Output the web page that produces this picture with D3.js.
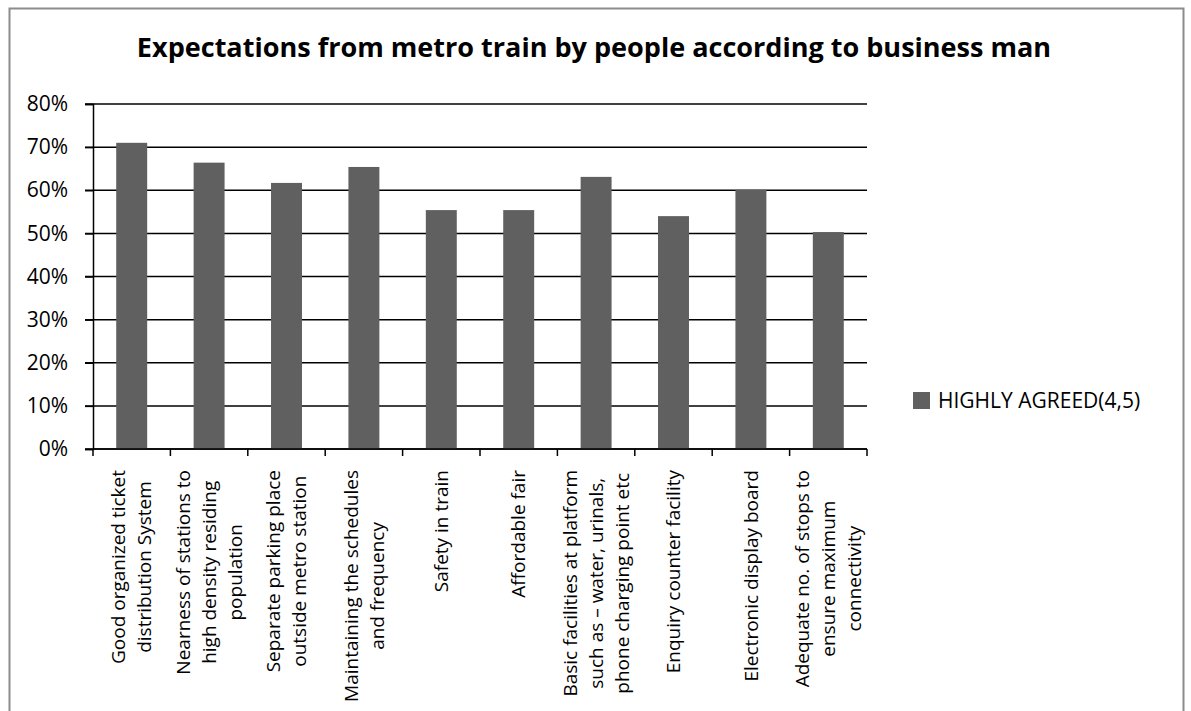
<!DOCTYPE html>
<html>
<head>
<meta charset="utf-8">
<script src="https://cdn.jsdelivr.net/npm/d3@7"></script>
<style>
  html, body { margin: 0; padding: 0; background: #fff; }
  svg { display: block; font-family: "Open Sans", "Noto Sans", sans-serif; }
</style>
</head>
<body>
<svg id="chart" width="1191" height="711"></svg>
<script>
// Survey items (each entry is a list of label lines)
const categories = [
  ["Good organized ticket", "distribution System"],
  ["Nearness of stations to", "high density  residing", "population"],
  ["Separate parking place", "outside metro station"],
  ["Maintaining the schedules", "and frequency"],
  ["Safety in  train"],
  ["Affordable fair"],
  ["Basic facilities at platform", "such as \u2013 water, urinals,", "phone charging point etc"],
  ["Enquiry counter facility"],
  ["Electronic display board"],
  ["Adequate no. of stops to", "ensure maximum", "connectivity"]
];
// Share of respondents who highly agreed (4,5)
const highlyAgreed = [0.710, 0.664, 0.617, 0.654, 0.554, 0.554, 0.631, 0.540, 0.601, 0.503];
const yTicks = [0, 0.1, 0.2, 0.3, 0.4, 0.5, 0.6, 0.7, 0.8];
const seriesName = "HIGHLY AGREED(4,5)";
const chartTitle = "Expectations from metro train by people according to business man";

const svg = d3.select("#chart");

// outer frame
svg.append("path")
  .attr("d", "M9.5,711 V8.5 H1183.5 V711")
  .attr("fill", "none")
  .attr("stroke", "#8c8c8c")
  .attr("stroke-width", 2);

const plot = { left: 93, right: 867, top: 104, bottom: 449 };

const x = d3.scaleBand()
  .domain(d3.range(categories.length))
  .range([plot.left, plot.right])
  .paddingInner(0.6)
  .paddingOuter(0.3);

const y = d3.scaleLinear()
  .domain([0, 0.8])
  .range([plot.bottom, plot.top]);

// title: a tall bold face, squeezed horizontally to its line width
const titleG = svg.append("g");
const title = titleG.append("text")
  .attr("x", 0)
  .attr("y", 0)
  .attr("text-anchor", "middle")
  .attr("font-weight", "bold")
  .attr("font-size", 26)
  .attr("fill", "#000")
  .text(chartTitle);
const tw = title.node().getComputedTextLength();
titleG.attr("transform", `translate(594,57) scale(${915 / tw},1)`);

// horizontal gridlines
svg.append("g")
  .selectAll("line")
  .data(yTicks)
  .join("line")
  .attr("x1", plot.left - 8)
  .attr("x2", plot.right)
  .attr("y1", d => y(d))
  .attr("y2", d => y(d))
  .attr("stroke", "#000")
  .attr("stroke-width", 1.5);

// y axis
const yAxis = svg.append("g")
  .attr("transform", `translate(${plot.left},0)`)
  .call(d3.axisLeft(y).tickValues(yTicks).tickFormat(d3.format(".0%")).tickSize(8).tickPadding(17));
yAxis.select(".domain").attr("stroke", "#000").attr("stroke-width", 1.5);
yAxis.selectAll(".tick line").attr("stroke", "#000").attr("stroke-width", 1.5);
yAxis.selectAll(".tick text")
  .attr("font-family", "\"Open Sans\", sans-serif")
  .attr("font-size", 21)
  .attr("fill", "#000");

// bars
svg.append("g")
  .selectAll("rect")
  .data(highlyAgreed)
  .join("rect")
  .attr("x", (d, i) => x(i))
  .attr("width", x.bandwidth())
  .attr("y", d => y(d))
  .attr("height", d => y(0) - y(d))
  .attr("fill", "#606060");

// x axis with ticks on band boundaries
const xAxis = svg.append("g");
xAxis.append("line")
  .attr("x1", plot.left).attr("x2", plot.right)
  .attr("y1", plot.bottom).attr("y2", plot.bottom)
  .attr("stroke", "#000").attr("stroke-width", 1.5);
const step = x.step();
const boundaries = d3.range(categories.length + 1).map(i => i === categories.length ? plot.right : x(i) - (step - x.bandwidth()) / 2);
xAxis.selectAll("line.tk")
  .data(boundaries)
  .join("line")
  .attr("class", "tk")
  .attr("x1", d => d).attr("x2", d => d)
  .attr("y1", plot.bottom).attr("y2", plot.bottom + 7)
  .attr("stroke", "#000").attr("stroke-width", 1.5);

// rotated category labels, top-aligned and centred line by line
const labelTop = 470;
const lineGap = 26;
const labelSize = 19;
categories.forEach((lines, i) => {
  const cx = x(i) + x.bandwidth() / 2;
  const g = svg.append("g");
  const texts = lines.map((t, j) => g.append("text")
    .attr("font-size", labelSize)
    .attr("fill", "#000")
    .attr("text-anchor", "middle")
    .text(t));
  const maxLen = d3.max(texts, t => t.node().getComputedTextLength());
  const cy = labelTop + maxLen / 2;
  const n = lines.length;
  texts.forEach((t, j) => {
    const lx = cx + (j - (n - 1) / 2) * lineGap + labelSize * 0.35;
    t.attr("transform", `translate(${lx},${cy}) rotate(-90)`);
  });
});

// legend
const legend = svg.append("g").attr("transform", "translate(913,392)");
legend.append("rect")
  .attr("width", 17).attr("height", 17)
  .attr("fill", "#606060");
legend.append("text")
  .attr("x", 25)
  .attr("y", 16)
  .attr("font-size", 21)
  .attr("fill", "#000")
  .text(seriesName);
</script>
</body>
</html>
